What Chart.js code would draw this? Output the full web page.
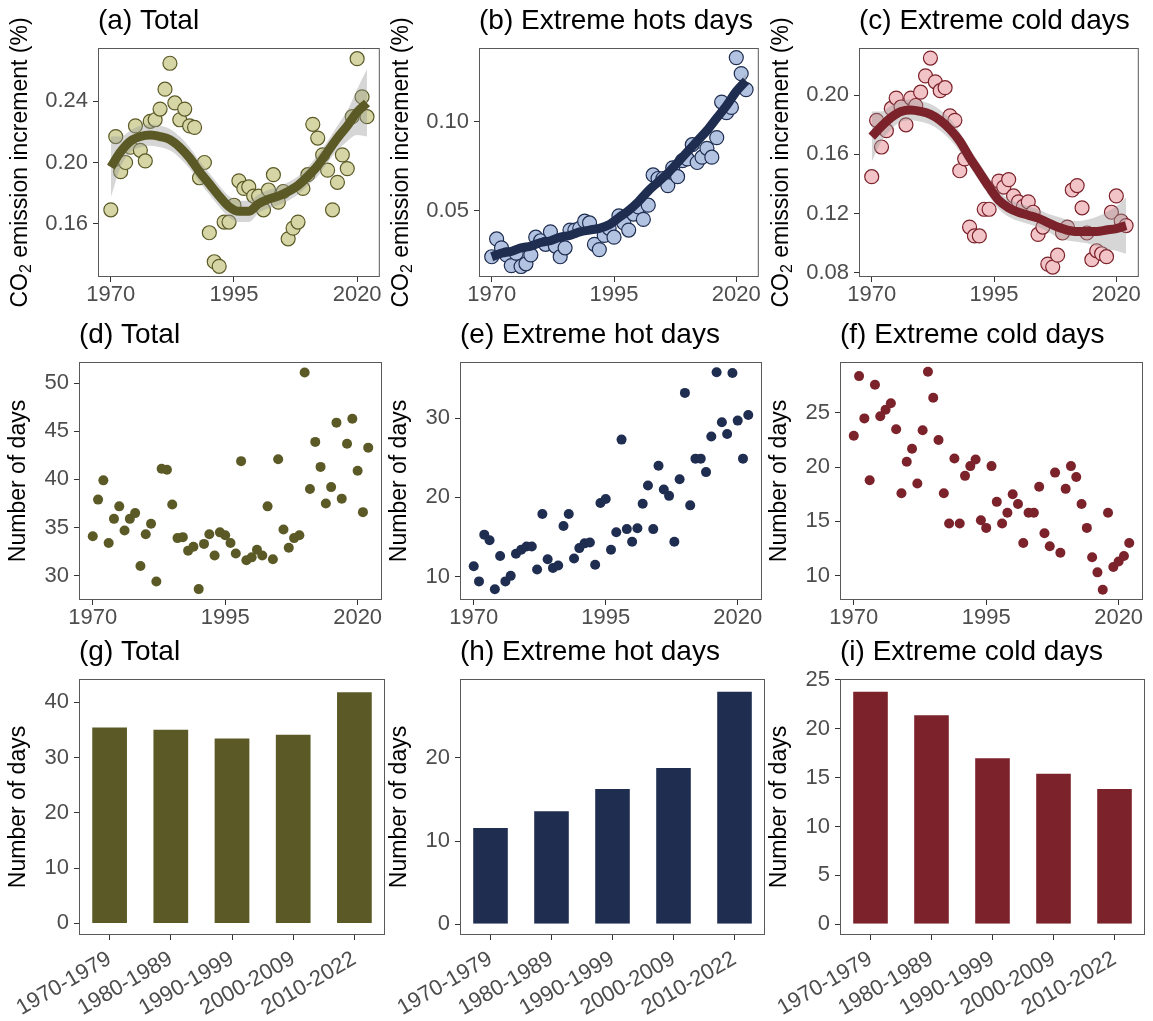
<!DOCTYPE html>
<html>
<head>
<meta charset="utf-8">
<title>CO2 emission increment and extreme days</title>
<script src="https://cdn.jsdelivr.net/npm/chart.js@4.4.1/dist/chart.umd.min.js"></script>
<style>
  html, body { margin: 0; padding: 0; background: #ffffff; }
  #page { position: relative; width: 1153px; height: 1021px; overflow: hidden; }
  #page canvas { position: absolute; }
</style>
</head>
<body>
<div id="page">
  <canvas id="chart-a" width="388" height="317" style="left:0px;top:0px"></canvas>
  <canvas id="chart-b" width="386" height="317" style="left:381px;top:0px"></canvas>
  <canvas id="chart-c" width="386" height="317" style="left:761px;top:0px"></canvas>
  <canvas id="chart-d" width="387" height="326" style="left:0px;top:314px"></canvas>
  <canvas id="chart-e" width="386" height="326" style="left:381px;top:314px"></canvas>
  <canvas id="chart-f" width="387" height="326" style="left:761px;top:314px"></canvas>
  <canvas id="chart-g" width="387" height="390" style="left:0px;top:631px"></canvas>
  <canvas id="chart-h" width="386" height="390" style="left:381px;top:631px"></canvas>
  <canvas id="chart-i" width="386" height="390" style="left:761px;top:631px"></canvas>
</div>
<script>
// -----------------------------------------------
// Data
// -----------------------------------------------

// one point per year
const years = [1970, 1971, 1972, 1973, 1974, 1975, 1976, 1977, 1978, 1979,
               1980, 1981, 1982, 1983, 1984, 1985, 1986, 1987, 1988, 1989,
               1990, 1991, 1992, 1993, 1994, 1995, 1996, 1997, 1998, 1999,
               2000, 2001, 2002, 2003, 2004, 2005, 2006, 2007, 2008, 2009,
               2010, 2011, 2012, 2013, 2014, 2015, 2016, 2017, 2018, 2019,
               2020, 2021, 2022];

// years where the smoothed curve and its band were read
const smoothYears = [1970, 1972, 1974, 1976, 1978, 1980, 1982, 1984, 1986,
                     1988, 1990, 1992, 1994, 1996, 1998, 2000, 2002, 2004,
                     2006, 2008, 2010, 2012, 2014, 2016, 2018, 2020, 2022];

// (a) CO2 emission increment (%) - total
const co2Total = [0.169, 0.217, 0.194, 0.200, 0.210, 0.224, 0.208, 0.201, 0.227, 0.228,
                  0.235, 0.248, 0.265, 0.239, 0.228, 0.235, 0.224, 0.223, 0.190, 0.200,
                  0.154, 0.135, 0.132, 0.161, 0.161, 0.172, 0.188, 0.183, 0.184, 0.178,
                  0.178, 0.169, 0.182, 0.192, 0.174, 0.181, 0.150, 0.157, 0.161, 0.183,
                  0.192, 0.225, 0.216, 0.205, 0.195, 0.169, 0.187, 0.205, 0.196, 0.230,
                  0.268, 0.243, 0.230];
const co2TotalFit = [0.197, 0.207, 0.214, 0.217, 0.218, 0.217, 0.215, 0.210, 0.203,
                     0.194, 0.186, 0.178, 0.171, 0.168, 0.168, 0.173, 0.176, 0.178,
                     0.181, 0.185, 0.191, 0.198, 0.207, 0.216, 0.224, 0.233, 0.239];
const co2TotalHigh = [0.217, 0.217, 0.221, 0.224, 0.225, 0.224, 0.222, 0.217, 0.210,
                      0.201, 0.193, 0.185, 0.178, 0.175, 0.175, 0.179, 0.182, 0.184,
                      0.187, 0.191, 0.197, 0.205, 0.214, 0.224, 0.234, 0.248, 0.261];
const co2TotalLow = [0.177, 0.197, 0.207, 0.210, 0.211, 0.210, 0.208, 0.203, 0.196,
                     0.187, 0.179, 0.171, 0.164, 0.161, 0.161, 0.167, 0.170, 0.172,
                     0.175, 0.179, 0.185, 0.191, 0.200, 0.208, 0.214, 0.218, 0.217];

// (b) CO2 emission increment (%) - extreme hot days
const co2Hot = [0.024, 0.034, 0.029, 0.025, 0.019, 0.026, 0.0185, 0.020, 0.025, 0.035,
                0.033, 0.031, 0.038, 0.030, 0.024, 0.029, 0.039, 0.039, 0.040, 0.044,
                0.043, 0.031, 0.028, 0.036, 0.040, 0.035, 0.047, 0.043, 0.039, 0.048,
                0.052, 0.045, 0.053, 0.070, 0.068, 0.068, 0.064, 0.074, 0.069, 0.078,
                0.079, 0.087, 0.077, 0.080, 0.085, 0.080, 0.091, 0.111, 0.105, 0.108,
                0.136, 0.127, 0.118];
const co2HotFit = [0.024, 0.026, 0.027, 0.029, 0.030, 0.032, 0.033, 0.035, 0.036,
                   0.038, 0.039, 0.040, 0.042, 0.046, 0.050, 0.055, 0.061, 0.066,
                   0.071, 0.077, 0.083, 0.089, 0.095, 0.102, 0.109, 0.117, 0.123];
const co2HotHigh = [0.027, 0.028, 0.029, 0.031, 0.032, 0.034, 0.035, 0.037, 0.038,
                    0.040, 0.041, 0.042, 0.044, 0.048, 0.052, 0.057, 0.063, 0.068,
                    0.073, 0.079, 0.085, 0.091, 0.097, 0.104, 0.111, 0.120, 0.127];
const co2HotLow = [0.021, 0.024, 0.025, 0.027, 0.028, 0.030, 0.031, 0.033, 0.034,
                   0.036, 0.037, 0.038, 0.040, 0.044, 0.048, 0.053, 0.059, 0.064,
                   0.069, 0.075, 0.081, 0.087, 0.093, 0.100, 0.107, 0.114, 0.119];

// (c) CO2 emission increment (%) - extreme cold days
const co2Cold = [0.145, 0.183, 0.165, 0.176, 0.191, 0.198, 0.192, 0.180, 0.198, 0.193,
                 0.202, 0.213, 0.225, 0.209, 0.203, 0.205, 0.186, 0.183, 0.149, 0.157,
                 0.111, 0.105, 0.105, 0.123, 0.123, 0.137, 0.142, 0.138, 0.143, 0.132,
                 0.128, 0.125, 0.128, 0.121, 0.106, 0.111, 0.086, 0.084, 0.092, 0.107,
                 0.111, 0.136, 0.139, 0.124, 0.107, 0.089, 0.095, 0.093, 0.091, 0.121,
                 0.132, 0.115, 0.112];
const co2ColdFit = [0.172, 0.179, 0.185, 0.189, 0.190, 0.189, 0.187, 0.183, 0.177,
                    0.169, 0.158, 0.148, 0.138, 0.129, 0.124, 0.121, 0.119, 0.117,
                    0.114, 0.111, 0.109, 0.108, 0.108, 0.108, 0.109, 0.110, 0.112];
const co2ColdHigh = [0.189, 0.189, 0.193, 0.196, 0.197, 0.196, 0.194, 0.190, 0.184,
                     0.175, 0.164, 0.154, 0.144, 0.135, 0.130, 0.127, 0.125, 0.123,
                     0.120, 0.118, 0.116, 0.115, 0.116, 0.118, 0.121, 0.125, 0.131];
const co2ColdLow = [0.155, 0.169, 0.177, 0.182, 0.183, 0.182, 0.180, 0.176, 0.170,
                    0.162, 0.152, 0.142, 0.132, 0.123, 0.118, 0.115, 0.113, 0.111,
                    0.108, 0.104, 0.102, 0.101, 0.100, 0.098, 0.096, 0.095, 0.093];

// (d)-(f) number of days per year
const daysTotal = [34.1, 37.9, 39.9, 33.4, 35.9, 37.2, 34.7, 35.9, 36.5, 31.0,
                   34.3, 35.4, 29.4, 41.1, 41.0, 37.4, 33.9, 34.0, 32.6, 33.0,
                   28.6, 33.3, 34.3, 32.1, 34.5, 34.2, 33.4, 32.3, 41.9, 31.6,
                   31.9, 32.7, 32.1, 37.2, 31.7, 42.1, 34.8, 32.9, 33.9, 34.2,
                   51.1, 39.0, 43.9, 41.3, 37.5, 39.2, 45.9, 38.0, 43.7, 46.3,
                   40.9, 36.6, 43.3];
const daysHot = [11.3, 9.4, 15.3, 14.6, 8.4, 12.6, 9.4, 10.1, 12.9, 13.4,
                 13.8, 13.8, 10.9, 17.9, 12.2, 11.1, 11.4, 16.4, 17.9, 12.3,
                 13.6, 14.2, 14.3, 11.5, 19.3, 19.8, 13.4, 15.6, 27.3, 16.0,
                 14.4, 16.1, 19.2, 21.5, 16.0, 24.0, 21.0, 20.2, 14.4, 22.3,
                 33.2, 19.0, 24.9, 24.9, 23.2, 27.7, 35.8, 29.5, 28.0, 35.7,
                 29.7, 24.9, 30.4];
const daysCold = [22.9, 28.4, 24.5, 18.8, 27.6, 24.7, 25.3, 25.9, 23.5, 17.6,
                  20.5, 21.7, 18.5, 23.4, 28.8, 26.4, 22.5, 17.6, 14.8, 20.8,
                  14.8, 19.2, 20.1, 20.7, 15.1, 14.4, 20.1, 16.8, 14.8, 15.8,
                  17.5, 16.6, 13.0, 15.8, 15.8, 18.2, 13.9, 12.7, 19.5, 12.1,
                  18.0, 20.1, 19.1, 16.6, 14.4, 11.7, 10.3, 8.7, 15.8, 10.8,
                  11.3, 11.8, 13.0];

// (g)-(i) decadal means
const periods = ['1970-1979', '1980-1989', '1990-1999', '2000-2009', '2010-2022'];
const decadeTotal = [35.6, 35.2, 33.6, 34.3, 42.0];
const decadeHot = [11.7, 13.7, 16.4, 18.9, 28.1];
const decadeCold = [23.9, 21.5, 17.1, 15.5, 13.95];

// tick labels
const yearTicks = [1970, 1995, 2020];
const ticksA = [0.16, 0.20, 0.24];
const ticksB = [0.05, 0.10];
const ticksC = [0.08, 0.12, 0.16, 0.20];
const ticksD = [30, 35, 40, 45, 50];
const ticksE = [10, 20, 30];
const ticksF = [10, 15, 20, 25];
const ticksG = [0, 10, 20, 30, 40];
const ticksH = [0, 10, 20];
const ticksI = [0, 5, 10, 15, 20, 25];

// -----------------------------------------------
// Shared styling
// -----------------------------------------------
const FONT = '"Liberation Sans", Arial, Helvetica, sans-serif';
const TICK_TEXT = '#4d4d4d';

const olive = { dark: '#5b5a27', light: '#d5d5a6' };
const navy = { dark: '#1f2d50', light: '#b2c3e2' };
const wine = { dark: '#7b222a', light: '#f2c3c7' };

// closed panel frame (ggplot panel border)
const panelFrame = {
    id: 'panelFrame',
    afterDraw(chart) {
        const { ctx, chartArea: a } = chart;
        ctx.save();
        ctx.strokeStyle = '#595959';
        ctx.lineWidth = 1;
        ctx.strokeRect(a.left + 0.5, a.top + 0.5, a.right - a.left - 1, a.bottom - a.top - 1);
        ctx.restore();
    }
};

// rotated y axis title, drawn by hand so it is not squeezed to the axis height
const sideTitle = {
    id: 'sideTitle',
    afterDraw(chart, args, opts) {
        const { ctx, chartArea: a } = chart;
        const big = '23px ' + FONT;
        const small = '16px ' + FONT;
        ctx.save();
        ctx.translate(a.left - opts.offset, (a.top + a.bottom) / 2);
        ctx.rotate(-Math.PI / 2);
        ctx.fillStyle = '#000000';
        ctx.textBaseline = 'middle';
        ctx.textAlign = 'left';
        ctx.font = big;
        const w1 = ctx.measureText(opts.before).width;
        const w3 = ctx.measureText(opts.after).width;
        ctx.font = small;
        const w2 = ctx.measureText(opts.sub).width;
        let x = -(w1 + w2 + w3) / 2;
        ctx.font = big;
        ctx.fillText(opts.before, x, 0);
        x += w1;
        ctx.font = small;
        ctx.fillText(opts.sub, x, 6);
        x += w2;
        ctx.font = big;
        ctx.fillText(opts.after, x, 0);
        ctx.restore();
    }
};

function pairs(xs, ys) {
    return xs.map((x, i) => ({ x: x, y: ys[i] }));
}

function tickMarks() {
    return { drawOnChartArea: false, drawTicks: true, tickLength: 5, tickColor: '#333333', tickWidth: 1 };
}

function panelTitle(text) {
    return {
        display: true,
        text: text,
        align: 'start',
        fullSize: false,
        color: '#000000',
        font: { family: FONT, size: 28, weight: 'normal', lineHeight: 1.2 },
        padding: { top: 4, bottom: 10.4 }
    };
}

function yScale(min, max, ticks, width, fmt) {
    return {
        min: min,
        max: max,
        afterBuildTicks: s => { s.ticks = ticks.map(v => ({ value: v })); },
        afterFit: s => { s.width = width; },
        grid: tickMarks(),
        border: { display: false },
        ticks: { color: TICK_TEXT, font: { family: FONT, size: 22 }, padding: 5, callback: fmt }
    };
}

function yearScale() {
    return {
        type: 'linear',
        min: 1967.4,
        max: 2024.6,
        afterBuildTicks: s => { s.ticks = yearTicks.map(v => ({ value: v })); },
        afterFit: s => { s.height = 40; },
        grid: tickMarks(),
        border: { display: false },
        ticks: { color: TICK_TEXT, font: { family: FONT, size: 22 }, padding: 0, maxRotation: 0, callback: v => String(v) }
    };
}

// -----------------------------------------------
// Row 1: emission increment with smoothed trend
// -----------------------------------------------
function trendPanel(id, title, values, fit, high, low, colors, yMin, yMax, yTicks) {
    new Chart(document.getElementById(id), {
        type: 'line',
        data: {
            datasets: [
                {
                    // smoothed curve
                    data: pairs(smoothYears, fit),
                    borderColor: colors.dark,
                    borderWidth: 9,
                    pointRadius: 0,
                    cubicInterpolationMode: 'monotone',
                    fill: false,
                    order: 0
                },
                {
                    // confidence band, upper edge (filled down to the next dataset)
                    data: pairs(smoothYears, high),
                    borderColor: 'transparent',
                    borderWidth: 0,
                    pointRadius: 0,
                    cubicInterpolationMode: 'monotone',
                    backgroundColor: 'rgba(153, 153, 153, 0.4)',
                    fill: '+1',
                    order: 1
                },
                {
                    // confidence band, lower edge
                    data: pairs(smoothYears, low),
                    borderColor: 'transparent',
                    borderWidth: 0,
                    pointRadius: 0,
                    cubicInterpolationMode: 'monotone',
                    fill: false,
                    order: 1
                },
                {
                    // yearly values
                    data: pairs(years, values),
                    showLine: false,
                    pointRadius: 7,
                    pointBorderWidth: 1.2,
                    pointBackgroundColor: colors.light,
                    pointBorderColor: colors.dark,
                    order: 2
                }
            ]
        },
        options: {
            responsive: false,
            animation: false,
            layout: { padding: { right: 2 } },
            plugins: {
                legend: { display: false },
                tooltip: { enabled: false },
                title: panelTitle(title),
                sideTitle: { before: 'CO', sub: '2', after: ' emission increment (%)', offset: 77 }
            },
            scales: {
                x: yearScale(),
                y: yScale(yMin, yMax, yTicks, 98, v => v.toFixed(2))
            }
        },
        plugins: [panelFrame, sideTitle]
    });
}

// -----------------------------------------------
// Row 2: yearly number of days
// -----------------------------------------------
function daysPanel(id, title, values, color, yMin, yMax, yTicks) {
    new Chart(document.getElementById(id), {
        type: 'line',
        data: {
            datasets: [{
                data: pairs(years, values),
                showLine: false,
                pointRadius: 5,
                pointBorderWidth: 0,
                pointBackgroundColor: color
            }]
        },
        options: {
            responsive: false,
            animation: false,
            layout: { padding: { right: 2 } },
            plugins: {
                legend: { display: false },
                tooltip: { enabled: false },
                title: panelTitle(title),
                sideTitle: { before: 'Number of days', sub: '', after: '', offset: 60 }
            },
            scales: {
                x: yearScale(),
                y: yScale(yMin, yMax, yTicks, 79, v => String(v))
            }
        },
        plugins: [panelFrame, sideTitle]
    });
}

// -----------------------------------------------
// Row 3: decadal bars
// -----------------------------------------------
function decadePanel(id, title, values, color, yMin, yMax, yTicks) {
    new Chart(document.getElementById(id), {
        type: 'bar',
        data: {
            labels: periods,
            datasets: [{
                data: values,
                backgroundColor: color,
                borderColor: 'rgba(255, 255, 255, 0.5)',
                borderWidth: 1,
                barPercentage: 0.6,
                categoryPercentage: 1.0
            }]
        },
        options: {
            responsive: false,
            animation: false,
            layout: { padding: { right: 2 } },
            plugins: {
                legend: { display: false },
                tooltip: { enabled: false },
                title: panelTitle(title),
                sideTitle: { before: 'Number of days', sub: '', after: '', offset: 60 }
            },
            scales: {
                x: {
                    afterFit: s => { s.height = 86; },
                    grid: Object.assign(tickMarks(), { offset: false }),
                    border: { display: false },
                    ticks: {
                        color: TICK_TEXT,
                        font: { family: FONT, size: 22 },
                        padding: 6,
                        autoSkip: false,
                        minRotation: 30,
                        maxRotation: 30
                    }
                },
                y: yScale(yMin, yMax, yTicks, 79, v => String(v))
            }
        },
        plugins: [panelFrame, sideTitle]
    });
}

document.addEventListener('DOMContentLoaded', function() {
    trendPanel('chart-a', '(a) Total', co2Total, co2TotalFit, co2TotalHigh, co2TotalLow, olive, 0.125, 0.275, ticksA);
    trendPanel('chart-b', '(b) Extreme hots days', co2Hot, co2HotFit, co2HotHigh, co2HotLow, navy, 0.0126, 0.1414, ticksB);
    trendPanel('chart-c', '(c) Extreme cold days', co2Cold, co2ColdFit, co2ColdHigh, co2ColdLow, wine, 0.0773, 0.2318, ticksC);

    daysPanel('chart-d', '(d) Total', daysTotal, olive.dark, 27.47, 52.2, ticksD);
    daysPanel('chart-e', '(e) Extreme hot days', daysHot, navy.dark, 7.05, 37.1, ticksE);
    daysPanel('chart-f', '(f) Extreme cold days', daysCold, wine.dark, 7.75, 29.7, ticksF);

    decadePanel('chart-g', '(g) Total', decadeTotal, olive.dark, -2.1, 44.2, ticksG);
    decadePanel('chart-h', '(h) Extreme hot days', decadeHot, navy.dark, -1.3, 29.5, ticksH);
    decadePanel('chart-i', '(i) Extreme cold days', decadeCold, wine.dark, -1.1, 25.1, ticksI);
});
</script>
</body>
</html>
